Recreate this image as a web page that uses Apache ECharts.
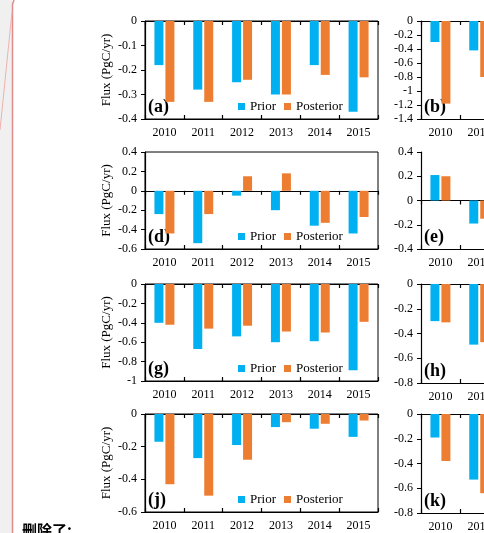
<!DOCTYPE html>
<html>
<head>
<meta charset="utf-8">
<script src="https://cdn.jsdelivr.net/npm/echarts@6/dist/echarts.min.js"></script>
<style>
  html, body { margin: 0; padding: 0; background: #fff; }
  #chart { width: 484px; height: 533px; }
</style>
</head>
<body>
<div id="chart"></div>
<script>
// categories
const years = ['2010', '2011', '2012', '2013', '2014', '2015'];

// left column (a) (d) (g) (j)
const priorA = [-0.18, -0.28, -0.25, -0.30, -0.18, -0.37];
const postA  = [-0.33, -0.33, -0.24, -0.30, -0.22, -0.23];
const priorD = [-0.24, -0.54, -0.05, -0.20, -0.36, -0.44];
const postD  = [-0.44, -0.24, 0.15, 0.18, -0.33, -0.27];
const priorG = [-0.40, -0.67, -0.54, -0.60, -0.59, -0.89];
const postG  = [-0.42, -0.46, -0.43, -0.49, -0.50, -0.39];
const priorJ = [-0.17, -0.27, -0.19, -0.08, -0.09, -0.14];
const postJ  = [-0.43, -0.50, -0.28, -0.05, -0.06, -0.04];

// right column (b) (e) (h) (k) - only 2010/2011 are visible, the rest is cut off
const priorB = [-0.30, -0.42, null, null, null, null];
const postB  = [-1.18, -0.80, null, null, null, null];
const priorE = [0.21, -0.19, null, null, null, null];
const postE  = [0.20, -0.15, null, null, null, null];
const priorH = [-0.30, -0.49, null, null, null, null];
const postH  = [-0.31, -0.47, null, null, null, null];
const priorK = [-0.19, -0.53, null, null, null, null];
const postK  = [-0.38, -0.64, null, null, null, null];

const serif = 'Liberation Serif';
const blue = '#00B0F0';
const orange = '#ED7D31';

const panels = [
  { tag: '(a)', left: 145, top: 21, height: 98, min: -0.4, max: 0, step: 0.1, prior: priorA, post: postA, box: true },
  { tag: '(d)', left: 145, top: 152, height: 97, min: -0.6, max: 0.4, step: 0.2, prior: priorD, post: postD, box: true },
  { tag: '(g)', left: 145, top: 284, height: 97, min: -1, max: 0, step: 0.2, prior: priorG, post: postG, box: true },
  { tag: '(j)', left: 145, top: 414, height: 98, min: -0.6, max: 0, step: 0.2, prior: priorJ, post: postJ, box: true },
  { tag: '(b)', left: 421, top: 21, height: 98, min: -1.4, max: 0, step: 0.2, prior: priorB, post: postB, box: false },
  { tag: '(e)', left: 421, top: 152, height: 97, min: -0.4, max: 0.4, step: 0.2, prior: priorE, post: postE, box: false },
  { tag: '(h)', left: 421, top: 284, height: 99, min: -0.8, max: 0, step: 0.2, prior: priorH, post: postH, box: false },
  { tag: '(k)', left: 421, top: 414, height: 99, min: -0.8, max: 0, step: 0.2, prior: priorK, post: postK, box: false }
];

const option = {
  animation: false,
  grid: [], xAxis: [], yAxis: [], series: [], legend: [], graphic: []
};

panels.forEach((p, i) => {
  option.grid.push({
    left: p.left, top: p.top, width: 233, height: p.height,
    outerBoundsMode: 'none', containLabel: false,
    show: p.box, borderColor: '#000', borderWidth: 1
  });
  const x0 = option.xAxis.length;
  // labels at the bottom
  option.xAxis.push({
    type: 'category', gridIndex: i, data: years, position: 'bottom',
    axisLine: { show: false, onZero: false }, axisTick: { show: false },
    axisLabel: { color: '#000', fontFamily: serif, fontSize: 12, margin: 8 }
  });
  // zero line, ticks crossing it (down + up)
  [false, true].forEach(inside => {
    option.xAxis.push({
      type: 'category', gridIndex: i, data: years, position: 'bottom',
      axisLine: { show: true, onZero: true, lineStyle: { color: '#000', width: 1.2 } },
      axisTick: { show: true, inside: inside, length: 4, lineStyle: { color: '#000', width: 1.2 } },
      axisLabel: { show: false }
    });
  });
  option.yAxis.push({
    type: 'value', gridIndex: i, min: p.min, max: p.max, interval: p.step,
    name: p.box ? 'Flux (PgC/yr)' : '',
    nameLocation: 'middle', nameGap: 32, nameRotate: 90,
    nameTextStyle: { color: '#000', fontFamily: serif, fontSize: 13 },
    axisLine: { show: true, lineStyle: { color: '#000', width: 1.2 } },
    axisTick: { show: true, length: 4, lineStyle: { color: '#000' } },
    splitLine: { show: false },
    axisLabel: { color: '#000', fontFamily: serif, fontSize: 12, margin: 8 }
  });
  option.series.push({
    name: 'Prior', type: 'bar', xAxisIndex: x0, yAxisIndex: i,
    data: p.prior, barWidth: 9, barGap: '22%', itemStyle: { color: blue }
  });
  option.series.push({
    name: 'Posterior', type: 'bar', xAxisIndex: x0, yAxisIndex: i,
    data: p.post, barWidth: 9, barGap: '22%', itemStyle: { color: orange }
  });
  if (p.box) {
    option.legend.push({
      left: 238, top: p.top + p.height - 19,
      data: ['Prior', 'Posterior'], icon: 'rect',
      itemWidth: 7, itemHeight: 7, itemGap: 8, padding: 0,
      textStyle: { color: '#000', fontFamily: serif, fontSize: 13 }
    });
  }
  option.graphic.push({
    type: 'text', left: p.left + 3, top: p.top + p.height - 21,
    style: { text: p.tag, fill: '#000', font: 'bold 18px "Liberation Serif"' }
  });
});

// word comment gutter on the left
option.graphic.push(
  { type: 'rect', left: 0, top: 0, shape: { width: 12, height: 533 }, style: { fill: '#f0f0f0' } },
  { type: 'line', shape: { x1: 12.5, y1: 4, x2: 12.5, y2: 533 }, style: { stroke: '#e08a8a', lineWidth: 1.5 } },
  { type: 'line', shape: { x1: 12.5, y1: 4, x2: 14, y2: 0 }, style: { stroke: '#e08a8a', lineWidth: 1.5 } },
  { type: 'line', shape: { x1: 12, y1: 12, x2: 0, y2: 130 }, style: { stroke: '#f0b0b0', lineWidth: 1 } },
  { type: 'text', left: 22, top: 523, style: { text: '删除了:', fill: '#000', font: 'bold 15px "Noto Sans CJK SC"' } }
);

const chart = echarts.init(document.getElementById('chart'));
chart.setOption(option);
</script>
</body>
</html>
